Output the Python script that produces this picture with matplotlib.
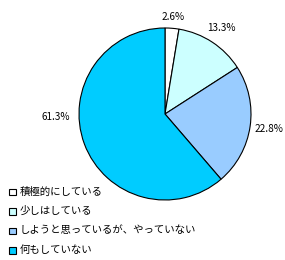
import matplotlib
matplotlib.use("Agg")
import matplotlib.pyplot as plt
from matplotlib.patches import Rectangle
import numpy as np

plt.rcParams['font.family'] = ['Noto Sans CJK JP', 'DejaVu Sans']

categories = ["積極的にしている", "少しはしている", "しようと思っているが、やっていない", "何もしていない"]
values = [2.6, 13.3, 22.8, 61.3]
pct_labels = ["2.6%", "13.3%", "22.8%", "61.3%"]
colors = ["#FFFFFF", "#CCFFFF", "#99CCFF", "#00CCFF"]

W, H = 285, 260
fig = plt.figure(figsize=(W / 100, H / 100), dpi=100)
fig.patch.set_facecolor("white")

cx, cy, r = 165, 114, 86
ax = fig.add_axes([(cx - r) / W, (H - cy - r) / H, 2 * r / W, 2 * r / H])
wedges, _ = ax.pie(values, colors=colors, startangle=90, counterclock=False,
                   wedgeprops=dict(edgecolor="black", linewidth=0.8))
ax.set_xlim(-1, 1)
ax.set_ylim(-1, 1)
ax.set_aspect("equal")
ax.axis("off")

dists = [1.13, 1.2, 1.22, 1.27]
for w, lab, d in zip(wedges, pct_labels, dists):
    ang = np.deg2rad((w.theta1 + w.theta2) / 2)
    if lab == "61.3%":
        ang = np.deg2rad(181.5)
    ax.text(d * np.cos(ang), d * np.sin(ang), lab, ha="center", va="center",
            fontsize=7.2, clip_on=False)

# legend
y0 = 191.5
dy = 19.5
for i, (cat, col) in enumerate(zip(categories, colors)):
    yc = y0 + i * dy
    fig.add_artist(Rectangle((9 / W, (H - yc - 3.5) / H), 6.5 / W, 6.5 / H,
                             transform=fig.transFigure, facecolor=col,
                             edgecolor="black", linewidth=0.8))
    fig.text(19.5 / W, (H - yc) / H, cat, ha="left", va="center", fontsize=7.5)

fig.savefig("out.png", dpi=100, facecolor="white")
